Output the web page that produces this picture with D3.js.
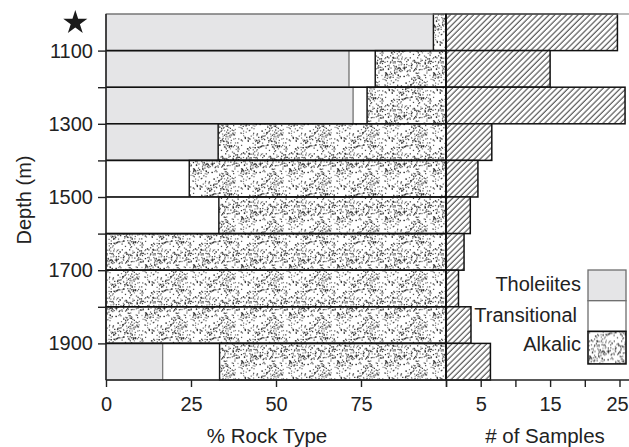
<!DOCTYPE html>
<html>
<head>
<meta charset="utf-8">
<script src="https://cdn.jsdelivr.net/npm/d3@7"></script>
<style>
  html, body { margin: 0; padding: 0; background: #fff; }
  svg { display: block; }
  text { font-family: "Liberation Sans", Arial, Helvetica, sans-serif; fill: #222; }
</style>
</head>
<body>
<svg id="chart" width="629" height="447"></svg>
<script>
// Depth intervals (top of each 100 m interval)
const depthTops = [1000, 1100, 1200, 1300, 1400, 1500, 1600, 1700, 1800, 1900];
// Percent of each rock type per interval
const tholeiitePct    = [96.3, 71.5, 72.7, 33.0, 0,    0,    0,   0,   0,   16.7];
const transitionalPct = [0,    7.7,  4.1,  0,    24.5, 33.2, 0,   0,   0,   16.7];
const alkalicPct      = [3.7,  20.8, 23.2, 67.0, 75.5, 66.8, 100, 100, 100, 66.6];
// Number of samples per interval
const sampleCounts = [24.7, 15.0, 25.8, 6.6, 4.6, 3.5, 2.6, 1.8, 3.6, 6.4];

// Axis ticks and labels
const depthTicks = [1100, 1200, 1300, 1400, 1500, 1600, 1700, 1800, 1900];
const depthLabelled = [1100, 1300, 1500, 1700, 1900];
const pctTicks = [0, 25, 50, 75, 100];
const pctLabelled = [0, 25, 50, 75];
const sampleTicks = [0, 5, 10, 15, 20, 25];
const sampleLabelled = [5, 15, 25];

const rockTypes = ["Tholeiites", "Transitional", "Alkalic"];

const svg = d3.select("#chart");
const W = 629;

const y = d3.scaleLinear().domain([1000, 2000]).range([14, 380]);
const xPct = d3.scaleLinear().domain([0, 100]).range([106, 446]);
const xN = d3.scaleLinear().domain([0, 25]).range([446, 619.5]);

// ---- fill patterns ----
const defs = svg.append("defs");

// diagonal hatching for the sample bars
const hatch = defs.append("pattern")
  .attr("id", "hatch")
  .attr("patternUnits", "userSpaceOnUse")
  .attr("width", 4.1).attr("height", 4.1)
  .attr("patternTransform", "rotate(45)");
hatch.append("rect").attr("width", 4.1).attr("height", 4.1).attr("fill", "#fff");
hatch.append("line")
  .attr("x1", 1).attr("y1", 0).attr("x2", 1).attr("y2", 4.1)
  .attr("stroke", "#4a4a4a").attr("stroke-width", 1.1);

// stipple for alkalic basalts, dots placed by a small seeded generator
const stip = defs.append("pattern")
  .attr("id", "stipple")
  .attr("patternUnits", "userSpaceOnUse")
  .attr("width", 48).attr("height", 48);
stip.append("rect").attr("width", 48).attr("height", 48).attr("fill", "#fff");
let seed = 12345;
function rnd() { seed = (seed * 1664525 + 1013904223) % 4294967296; return seed / 4294967296; }
const dots = [];
for (let i = 0; i < 380; i++) dots.push([rnd() * 47, rnd() * 47, 0.45 + rnd() * 0.5]);
stip.selectAll("rect.d").data(dots).enter().append("rect")
  .attr("class", "d")
  .attr("x", d => d[0]).attr("y", d => d[1])
  .attr("width", 1.25).attr("height", 1.25)
  .attr("fill", "#222")
  .attr("fill-opacity", d => d[2]);

const fills = { Tholeiites: "#e5e5e7", Transitional: "#ffffff", Alkalic: "url(#stipple)" };
const strokes = { Tholeiites: "#6e6e6e", Transitional: "#6e6e6e", Alkalic: "#1a1a1a" };

// ---- stacked rock-type bars ----
const rows = depthTops.map((d, i) => {
  const vals = [tholeiitePct[i], transitionalPct[i], alkalicPct[i]];
  let acc = 0;
  return rockTypes.map((k, j) => {
    const seg = { key: k, depth: d, x0: acc, x1: acc + vals[j] };
    acc += vals[j];
    return seg;
  }).filter(s => s.x1 - s.x0 > 0);
});

const left = svg.append("g");
left.selectAll("g.row").data(rows).enter().append("g").attr("class", "row")
  .selectAll("rect").data(d => d).enter().append("rect")
  .attr("x", s => xPct(s.x0))
  .attr("y", s => y(s.depth))
  .attr("width", s => xPct(s.x1) - xPct(s.x0))
  .attr("height", s => y(s.depth + 100) - y(s.depth))
  .attr("fill", s => fills[s.key])
  .attr("stroke", s => strokes[s.key])
  .attr("stroke-width", s => s.key === "Alkalic" ? 1.4 : 1);

// black lines separating the intervals
left.selectAll("line.sep").data(depthTicks).enter().append("line")
  .attr("class", "sep")
  .attr("x1", xPct(0)).attr("x2", xPct(100))
  .attr("y1", d => y(d)).attr("y2", d => y(d))
  .attr("stroke", "#111").attr("stroke-width", 1.6);

// ---- sample-count bars ----
svg.append("g").selectAll("rect").data(depthTops).enter().append("rect")
  .attr("x", xN(0))
  .attr("y", d => y(d))
  .attr("width", (d, i) => xN(sampleCounts[i]) - xN(0))
  .attr("height", d => y(d + 100) - y(d))
  .attr("fill", "url(#hatch)")
  .attr("stroke", "#111")
  .attr("stroke-width", 1.5);

// top frame line
svg.append("line")
  .attr("x1", xPct(0)).attr("x2", W)
  .attr("y1", y(1000)).attr("y2", y(1000))
  .attr("stroke", "#7a7a7a").attr("stroke-width", 1.2);

// divider between the two panels
svg.append("line")
  .attr("x1", xPct(100)).attr("x2", xPct(100))
  .attr("y1", y(1000)).attr("y2", y(2000))
  .attr("stroke", "#111").attr("stroke-width", 1.8);

// ---- axes ----
const yAxis = d3.axisLeft(y)
  .tickValues(depthTicks)
  .tickSize(8).tickPadding(5)
  .tickFormat(d => depthLabelled.includes(d) ? d : "");
const gy = svg.append("g").attr("transform", `translate(${xPct(0)},0)`).call(yAxis);
gy.select(".domain").attr("stroke", "#222").attr("stroke-width", 1.5)
  .attr("d", `M0,${y(1000)}V${y(2000)}`);
gy.selectAll(".tick line").attr("stroke", "#222").attr("stroke-width", 1.4);
gy.selectAll(".tick text").style("font-size", "20px").attr("fill", "#222");

const axPct = d3.axisBottom(xPct)
  .tickValues(pctTicks).tickSize(7).tickPadding(10)
  .tickFormat(d => pctLabelled.includes(d) ? d : "");
const gx1 = svg.append("g").attr("transform", `translate(0,${y(2000)})`).call(axPct);
gx1.select(".domain").remove();

const axN = d3.axisBottom(xN)
  .tickValues(sampleTicks).tickSize(7).tickPadding(10)
  .tickFormat(d => sampleLabelled.includes(d) ? d : "");
const gx2 = svg.append("g").attr("transform", `translate(0,${y(2000)})`).call(axN);
gx2.select(".domain").remove();
// keep the last label inside the page edge
gx2.selectAll(".tick text").filter(d => d === 25).attr("dx", -2.5);

[gx1, gx2].forEach(g => {
  g.selectAll(".tick line").attr("stroke", "#222").attr("stroke-width", 1.4);
  g.selectAll(".tick text").style("font-size", "20px").attr("fill", "#222");
});

// baseline across both panels
svg.append("line")
  .attr("x1", xPct(0)).attr("x2", W)
  .attr("y1", y(2000)).attr("y2", y(2000))
  .attr("stroke", "#222").attr("stroke-width", 1.5);

// axis titles
svg.append("text")
  .attr("x", (xPct(0) + xPct(100)) / 2 - 9).attr("y", 443)
  .attr("text-anchor", "middle").style("font-size", "20.5px")
  .text("% Rock Type");
svg.append("text")
  .attr("x", 545).attr("y", 443)
  .attr("text-anchor", "middle").style("font-size", "20.5px")
  .text("# of Samples");
svg.append("text")
  .attr("transform", `translate(31,${(y(1000) + y(2000)) / 2 + 3}) rotate(-90)`)
  .attr("text-anchor", "middle").style("font-size", "20px")
  .text("Depth (m)");

// star marking the top of the section
svg.append("path")
  .attr("d", d3.symbol(d3.symbolStar, 180)())
  .attr("transform", `translate(75.3,${y(1000) + 8.7})`)
  .attr("fill", "#1a1a1a");

// ---- legend ----
const legend = svg.append("g").attr("transform", "translate(588,270)");
const lg = legend.selectAll("g").data(rockTypes).enter().append("g")
  .attr("transform", (d, i) => `translate(0,${i * 30.7})`);
lg.append("rect")
  .attr("width", 38).attr("height", d => d === "Alkalic" ? 32.5 : 30.7)
  .attr("fill", d => fills[d])
  .attr("stroke", d => d === "Alkalic" ? "#111" : "#6e6e6e")
  .attr("stroke-width", d => d === "Alkalic" ? 1.6 : 1.3);
lg.append("text")
  .attr("x", (d, i) => i === 1 ? -11 : -7)
  .attr("y", (d, i) => [20.5, 21, 19.5][i])
  .attr("text-anchor", "end")
  .style("font-size", "20px")
  .text(d => d);
</script>
</body>
</html>
